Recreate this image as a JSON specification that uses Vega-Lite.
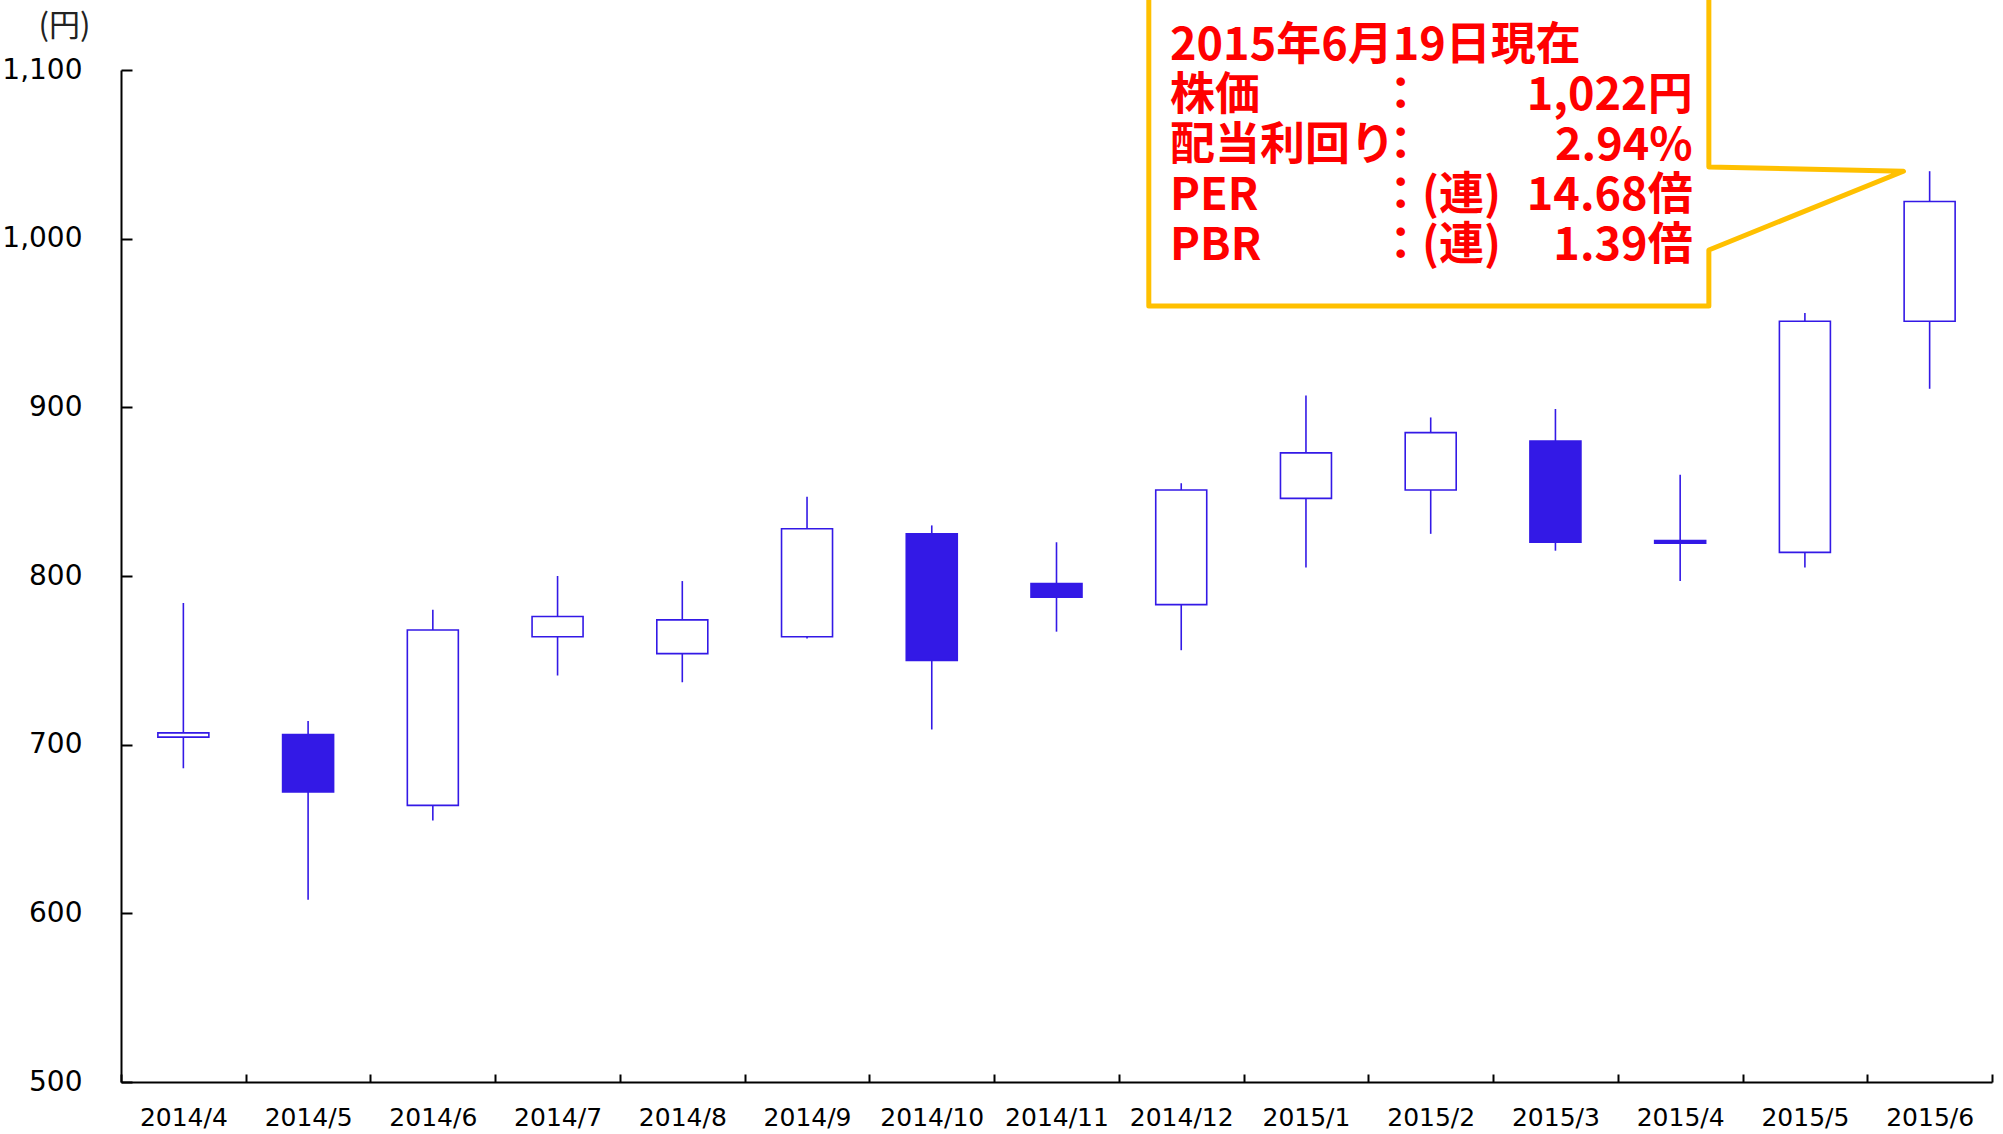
{
  "$schema": "https://vega.github.io/schema/vega-lite/v6.json",
  "width": 1871,
  "height": 1012,
  "autosize": {"type": "none"},
  "padding": {"left": 121, "top": 70, "right": 11, "bottom": 52},
  "background": "white",
  "config": {"view": {"stroke": null}, "font": "DejaVu Sans"},
  "datasets": {
    "candles": [
      {"month": "2014/4", "open": 704.5, "high": 784, "low": 686, "close": 707},
      {"month": "2014/5", "open": 706, "high": 714, "low": 608, "close": 672},
      {"month": "2014/6", "open": 664, "high": 780, "low": 655, "close": 768},
      {"month": "2014/7", "open": 764, "high": 800, "low": 741, "close": 776},
      {"month": "2014/8", "open": 754, "high": 797, "low": 737, "close": 774},
      {"month": "2014/9", "open": 764, "high": 847, "low": 763, "close": 828},
      {"month": "2014/10", "open": 825, "high": 830, "low": 709, "close": 750},
      {"month": "2014/11", "open": 795.5, "high": 820, "low": 767, "close": 787.5},
      {"month": "2014/12", "open": 783, "high": 855, "low": 756, "close": 851},
      {"month": "2015/1", "open": 846, "high": 907, "low": 805, "close": 873},
      {"month": "2015/2", "open": 851, "high": 894, "low": 825, "close": 885},
      {"month": "2015/3", "open": 880, "high": 899, "low": 815, "close": 820},
      {"month": "2015/4", "open": 821, "high": 860, "low": 797, "close": 819.5},
      {"month": "2015/5", "open": 814, "high": 956, "low": 805, "close": 951},
      {"month": "2015/6", "open": 951, "high": 1040, "low": 911, "close": 1022}
    ],
    "callout": [
      {"i": 1, "u": 8.24, "v": 1160},
      {"i": 2, "u": 8.24, "v": 960.1},
      {"i": 3, "u": 12.73, "v": 960.1},
      {"i": 4, "u": 12.73, "v": 993.3},
      {"i": 5, "u": 14.29, "v": 1040},
      {"i": 6, "u": 12.73, "v": 1042.5},
      {"i": 7, "u": 12.73, "v": 1160}
    ],
    "notes": [
      {"line": 1, "label": "2015年6月19日現在", "colon": "", "ren": "", "val": ""},
      {"line": 2, "label": "株価", "colon": "：", "ren": "", "val": "1,022円"},
      {"line": 3, "label": "配当利回り", "colon": "：", "ren": "", "val": "2.94%"},
      {"line": 4, "label": "PER", "colon": "：", "ren": "(連)", "val": "14.68倍"},
      {"line": 5, "label": "PBR", "colon": "：", "ren": "(連)", "val": "1.39倍"}
    ]
  },
  "layer": [
    {
      "data": {"name": "candles"},
      "encoding": {
        "x": {
          "field": "month", "type": "ordinal", "sort": null,
          "scale": {"paddingInner": 0, "paddingOuter": 0},
          "axis": {
            "title": null, "labelAngle": 0, "labelFont": "DejaVu Sans", "labelFontSize": 25,
            "labelColor": "#000", "domainColor": "#000", "domainWidth": 2,
            "tickColor": "#000", "tickWidth": 2, "tickSize": -8, "tickBand": "extent",
            "labelPadding": 43, "labelBaseline": "middle", "grid": false
          }
        }
      },
      "layer": [
        {
          "mark": {"type": "rule", "color": "#3319E6", "strokeWidth": 1.6},
          "encoding": {
            "y": {
              "field": "low", "type": "quantitative",
              "scale": {"domain": [500, 1100], "zero": false, "nice": false},
              "axis": {
                "values": [500, 600, 700, 800, 900, 1000, 1100], "format": ",.0f",
                "title": "(円)", "titleAngle": 0, "titleX": -57, "titleY": -44,
                "titleAlign": "center", "titleBaseline": "middle",
                "titleFont": "Noto Sans CJK JP", "titleFontSize": 31, "titleFontWeight": "normal", "titleColor": "#222",
                "labelFont": "DejaVu Sans", "labelFontSize": 28, "labelColor": "#000",
                "domainColor": "#000", "domainWidth": 2, "tickColor": "#000", "tickWidth": 2,
                "tickSize": -11, "labelPadding": 50, "grid": false
              }
            },
            "y2": {"field": "high"}
          }
        },
        {
          "mark": {"type": "bar", "width": 51, "stroke": "#3319E6", "strokeWidth": 1.6},
          "encoding": {
            "y": {"field": "open", "type": "quantitative", "title": "(円)"},
            "y2": {"field": "close"},
            "fill": {"condition": {"test": "datum.close < datum.open", "value": "#3319E6"}, "value": "#ffffff"}
          }
        }
      ]
    },
    {
      "data": {"name": "callout"},
      "mark": {"type": "line", "stroke": "#FFC000", "strokeWidth": 5, "strokeJoin": "round", "strokeCap": "round", "clip": false},
      "encoding": {
        "x": {"field": "u", "type": "quantitative", "scale": {"domain": [0, 15], "nice": false, "zero": false}, "axis": null},
        "y": {"field": "v", "type": "quantitative", "scale": {"domain": [500, 1100], "nice": false, "zero": false}, "axis": null},
        "order": {"field": "i"}
      }
    },
    {
      "data": {"name": "notes"},
      "encoding": {
        "y": {"field": "line", "type": "quantitative", "scale": {"domain": [1.49, 21.73], "reverse": true, "nice": false, "zero": false}, "axis": null}
      },
      "layer": [
        {
          "mark": {"type": "text", "align": "left", "baseline": "middle", "font": "Noto Sans CJK JP", "fontWeight": "bold", "fontSize": 45, "color": "#FF0000"},
          "encoding": {
            "x": {"datum": 8.41, "type": "quantitative", "scale": {"domain": [0, 15], "nice": false, "zero": false}, "axis": null},
            "text": {"field": "label"}
          }
        },
        {
          "mark": {"type": "text", "align": "center", "baseline": "middle", "font": "Noto Sans CJK JP", "fontWeight": "bold", "fontSize": 45, "color": "#FF0000"},
          "encoding": {"x": {"datum": 10.26, "type": "quantitative"}, "text": {"field": "colon"}}
        },
        {
          "mark": {"type": "text", "align": "left", "baseline": "middle", "font": "Noto Sans CJK JP", "fontWeight": "bold", "fontSize": 45, "color": "#FF0000"},
          "encoding": {"x": {"datum": 10.43, "type": "quantitative"}, "text": {"field": "ren"}}
        },
        {
          "mark": {"type": "text", "align": "right", "baseline": "middle", "font": "Noto Sans CJK JP", "fontWeight": "bold", "fontSize": 45, "color": "#FF0000"},
          "encoding": {"x": {"datum": 12.6, "type": "quantitative"}, "text": {"field": "val"}}
        }
      ]
    }
  ],
  "resolve": {"scale": {"x": "independent", "y": "independent"}, "axis": {"x": "independent", "y": "independent"}}
}
